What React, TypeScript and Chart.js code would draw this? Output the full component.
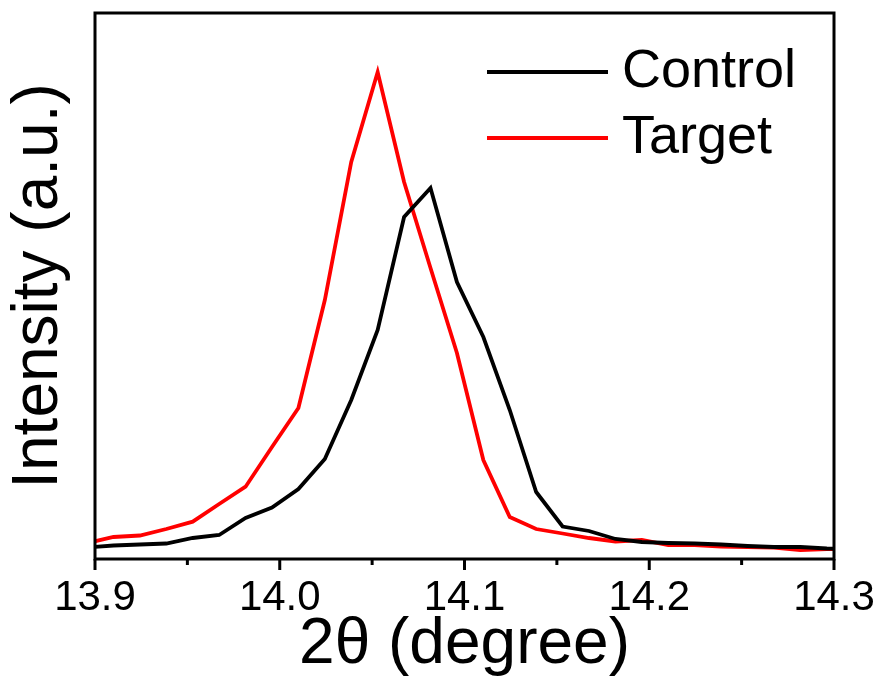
import React, { useEffect, useRef } from "react";
import { Chart, registerables } from "chart.js";

Chart.register(...registerables);

// 2θ positions of the measured points (degrees)
const twoTheta = [
  13.8957, 13.91, 13.9243, 13.9386, 13.9529, 13.9672, 13.9815, 13.9958, 14.0101, 14.0244,
  14.0387, 14.053, 14.0673, 14.0816, 14.0959, 14.1102, 14.1245, 14.1388, 14.1531, 14.1674,
  14.1817, 14.196, 14.2103, 14.2246, 14.2389, 14.2532, 14.2675, 14.2818, 14.2961, 14.3104,
];

// Intensities (arbitrary units)
const control = [
  11.5, 13.5, 14.5, 15.5, 21, 24, 41, 51.5, 70, 100,
  159, 229, 342, 371, 277, 222, 149, 67, 32.5, 28,
  20, 17, 16, 15.5, 14.5, 13, 12, 12, 10.5, 10,
];

const target = [
  16, 22, 23.5, 30, 37.3, 55, 72.3, 112, 151, 259,
  397, 487, 377, 291, 206, 99, 42, 30, 25.5, 21,
  17.5, 19, 14, 14, 12.5, 12, 11.5, 9, 10, 10,
];

const seriesNames = ["Control", "Target"];
const seriesColors = ["#000000", "#ff0000"];
const xTickLabels = ["13.9", "14.0", "14.1", "14.2", "14.3"];

const FONT = "'Liberation Sans', Arial, sans-serif";

const framePlugin = {
  id: "frameAndTicks",
  afterDraw(chart: any) {
    const { ctx, chartArea } = chart;
    const xs = chart.scales.x;
    ctx.save();
    ctx.strokeStyle = "#000";
    ctx.lineWidth = 3;
    ctx.lineCap = "square";
    ctx.strokeRect(chartArea.left, chartArea.top, chartArea.right - chartArea.left, chartArea.bottom - chartArea.top);
    ctx.lineCap = "butt";
    xs.ticks.forEach((t: any) => {
      const px = xs.getPixelForValue(t.value);
      const major = Math.abs(t.value * 10 - Math.round(t.value * 10)) < 1e-6;
      ctx.beginPath();
      ctx.moveTo(px, chartArea.bottom);
      ctx.lineTo(px, chartArea.bottom + (major ? 11 : 6));
      ctx.stroke();
    });
    // legend
    const lx0 = 487, lx1 = 608, tx = 622;
    const rows = [72, 138];
    chart.data.datasets.forEach((ds: any, i: number) => {
      const y = rows[i];
      ctx.strokeStyle = ds.borderColor;
      ctx.lineWidth = 4;
      ctx.beginPath();
      ctx.moveTo(lx0, y);
      ctx.lineTo(lx1, y);
      ctx.stroke();
      ctx.fillStyle = "#000";
      ctx.font = `54px ${FONT}`;
      ctx.textBaseline = "middle";
      ctx.textAlign = "left";
      ctx.fillText(ds.label, tx, y);
    });
    ctx.restore();
  },
};

export default function App() {
  const ref = useRef<HTMLCanvasElement>(null);
  useEffect(() => {
    document.body.style.margin = "0";
    const canvas = ref.current!;
    const chart = new Chart(canvas, {
      type: "line",
      data: {
        datasets: [
          {
            label: seriesNames[0],
            data: twoTheta.map((x, i) => ({ x, y: control[i] })),
            borderColor: seriesColors[0],
            borderWidth: 3.8,
            pointRadius: 0,
            tension: 0,
          },
          {
            label: seriesNames[1],
            data: twoTheta.map((x, i) => ({ x, y: target[i] })),
            borderColor: seriesColors[1],
            borderWidth: 3.8,
            pointRadius: 0,
            tension: 0,
          },
        ],
      },
      options: {
        responsive: false,
        animation: false,
        devicePixelRatio: 1,
        layout: { padding: { top: 13, right: 50, left: 0, bottom: 0 } },
        plugins: { legend: { display: false }, tooltip: { enabled: false } },
        scales: {
          x: {
            type: "linear",
            min: 13.9,
            max: 14.3,
            grid: { display: false, drawTicks: false },
            border: { display: false },
            ticks: {
              stepSize: 0.05,
              padding: 14,
              color: "#000",
              font: { family: FONT, size: 42 },
              maxRotation: 0,
              autoSkip: false,
              callback: (v: any) => {
                const n = Number(v);
                const idx = Math.round((n - 13.9) * 10);
                if (Math.abs((n - 13.9) * 10 - idx) > 1e-6) return "";
                return xTickLabels[idx] ?? "";
              },
            },
            title: {
              display: true,
              text: "2θ (degree)",
              color: "#000",
              font: { family: FONT, size: 64, lineHeight: 1.15 },
              padding: 0,
            },
            afterFit: (s: any) => {
              s.height = 123;
              s.paddingLeft = 0;
              s.paddingRight = 0;
            },
          },
          y: {
            min: 0,
            max: 546,
            grid: { display: false, drawTicks: false },
            border: { display: false },
            ticks: { display: false },
            title: {
              display: true,
              text: "Intensity (a.u.)",
              color: "#000",
              font: { family: FONT, size: 64, lineHeight: 1.15 },
              padding: { top: 3, bottom: 0 },
            },
            afterFit: (s: any) => {
              s.width = 95;
            },
          },
        },
      },
      plugins: [framePlugin],
    });
    return () => chart.destroy();
  }, []);
  return <canvas ref={ref} width={884} height={682} style={{ display: "block" }} />;
}
